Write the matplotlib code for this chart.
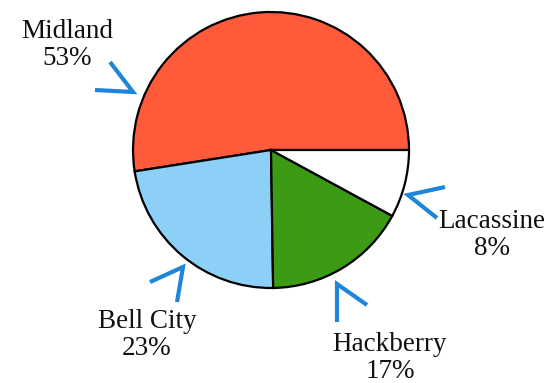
import matplotlib.pyplot as plt

# regions and their share of the total
regions = ['Midland', 'Bell City', 'Hackberry', 'Lacassine']
shares = [53, 23, 17, 8]
colors = ['#FF5A3A', '#8CCFF7', '#3C9A14', '#FFFFFF']

# label anchors and chevron pointers, in pixel coordinates (y grows downwards)
label_pos = [(67, 45), (147, 335), (390, 358), (492, 235)]
chevrons = [
    [(95, 90), (133, 92), (110, 62)],
    [(150, 282), (183, 267), (177, 302)],
    [(337, 322), (337, 284), (367, 305)],
    [(445, 187), (408, 195), (437, 218)],
]

W, H = 552, 383


def flip(y):
    return H - y


fig = plt.figure(figsize=(W / 100, H / 100), dpi=100)
ax = fig.add_axes([0, 0, 1, 1])

ax.pie(shares, colors=colors, startangle=0, counterclock=True,
       center=(271, flip(150)), radius=138, frame=True,
       wedgeprops=dict(edgecolor='black', linewidth=1.6))

for name, pct, (x, y) in zip(regions, shares, label_pos):
    ax.text(x, flip(y), f'{name}\n{pct}%', ha='center', va='center',
            family='Liberation Serif', fontsize=19.5, linespacing=1.1,
            color='#111111')

for pts in chevrons:
    xs = [p[0] for p in pts]
    ys = [flip(p[1]) for p in pts]
    ax.plot(xs, ys, color='#1E86DA', linewidth=3.0, solid_capstyle='butt',
            solid_joinstyle='miter')

ax.set_xlim(0, W)
ax.set_ylim(0, H)
ax.set_aspect('equal')
ax.axis('off')

fig.savefig('out.png', dpi=100)
